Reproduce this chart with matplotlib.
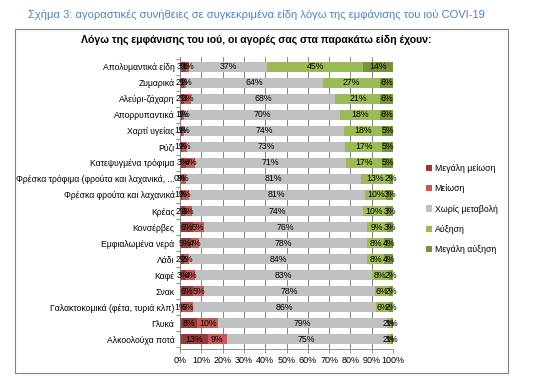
import numpy as np
import matplotlib
matplotlib.use("Agg")
import matplotlib.pyplot as plt
from matplotlib.patches import Rectangle

plt.rcParams['font.family'] = ['Liberation Sans', 'DejaVu Sans']

# --- Data ---
categories = [
    "Απολυμαντικά είδη", "Ζυμαρικά", "Αλεύρι-ζάχαρη", "Απορρυπαντικά",
    "Χαρτί υγείας", "Ρύζι", "Κατεψυγμένα τρόφιμα",
    "Φρέσκα τρόφιμα (φρούτα και λαχανικά, ...", "Φρέσκα φρούτα και λαχανικά",
    "Κρέας", "Κονσέρβες", "Εμφιαλωμένα νερά", "Λάδι", "Καφέ", "Σνακ",
    "Γαλακτοκομικά (φέτα, τυριά κλπ)", "Γλυκά", "Αλκοολούχα ποτά",
]
big_decrease = [3, 2, 2, 1, 1, 1, 3, 0, 1, 2, 6, 5, 2, 3, 6, 1, 8, 13]
decrease     = [1, 1, 3, 1, 1, 2, 4, 3, 3, 3, 5, 4, 2, 4, 5, 5, 10, 9]
no_change    = [37, 64, 68, 70, 74, 73, 71, 81, 81, 74, 76, 78, 84, 83, 78, 86, 79, 75]
increase     = [45, 27, 21, 18, 18, 17, 17, 13, 10, 10, 9, 8, 8, 8, 6, 6, 2, 2]
big_increase = [14, 6, 6, 6, 5, 5, 5, 2, 3, 3, 3, 4, 4, 2, 2, 2, 1, 1]

series_names = ["Μεγάλη μείωση", "Μείωση", "Χωρίς μεταβολή", "Αύξηση", "Μεγάλη αύξηση"]
colors = ["#953b3a", "#c45b58", "#c0c0c0", "#9bbb59", "#76923c"]

series = np.array([big_decrease, decrease, no_change, increase, big_increase], dtype=float)
totals = series.sum(axis=0)
shares = series / totals * 100  # 100% stacked, as in Excel

fig = plt.figure(figsize=(5.44, 3.86), dpi=100)
ax = fig.add_axes([180/544, 1-349/386, 213/544, 292/386])

y = np.arange(len(categories))
left = np.zeros(len(categories))
for i, (name, col) in enumerate(zip(series_names, colors)):
    ax.barh(y, shares[i], left=left, height=0.62, color=col, label=name, zorder=2)
    for j in range(len(categories)):
        ax.text(left[j] + shares[i][j]/2, y[j], f"{int(series[i][j])}%",
                ha='center', va='center', fontsize=6.3, color='black', zorder=3)
    left += shares[i]

ax.set_xlim(0, 100)
ax.set_ylim(len(categories) - 0.4, -0.6)
ax.set_xticks(np.arange(0, 101, 10))
ax.set_xticklabels([f"{v}%" for v in range(0, 101, 10)], fontsize=6.5)
ax.set_yticks(y)
ax.set_yticklabels(categories, fontsize=6.2)
ax.set_yticks(np.arange(-0.5, len(categories), 1), minor=True)
ax.tick_params(axis='y', which='major', length=0, pad=4)
ax.tick_params(axis='y', which='minor', length=3, width=0.6, color='#808080')
ax.tick_params(axis='x', length=3, width=0.6, color='#808080', pad=2)
ax.xaxis.grid(True, color='#707070', linewidth=0.6, zorder=0)
ax.set_axisbelow(True)
for s in ['top', 'right']:
    ax.spines[s].set_visible(False)
for s in ['left', 'bottom']:
    ax.spines[s].set_color('#808080')
    ax.spines[s].set_linewidth(0.6)

ax.legend(loc='center left', bbox_to_anchor=(418/544, 1-209/386), bbox_transform=fig.transFigure,
          frameon=False, fontsize=6.3, handlelength=0.7, handleheight=0.7,
          handletextpad=0.3, labelspacing=1.3)

# outer box and titles
fig.patches.append(Rectangle((15/544, 1-373/386), 493/544, 344/386, transform=fig.transFigure,
                             fill=False, edgecolor='#808080', linewidth=0.8))
fig.text(256/544, 1-15/386, "Σχήμα 3: αγοραστικές συνήθειες σε συγκεκριμένα είδη λόγω της εμφάνισης του ιού COVI-19",
         ha='center', va='center', fontsize=8.0, color='#4f81bd')
fig.text(256/544, 1-40/386, "Λόγω της εμφάνισης του ιού, οι αγορές σας στα παρακάτω είδη έχουν:",
         ha='center', va='center', fontsize=7.6, fontweight='bold', color='black')

fig.savefig("out.png", dpi=100)
